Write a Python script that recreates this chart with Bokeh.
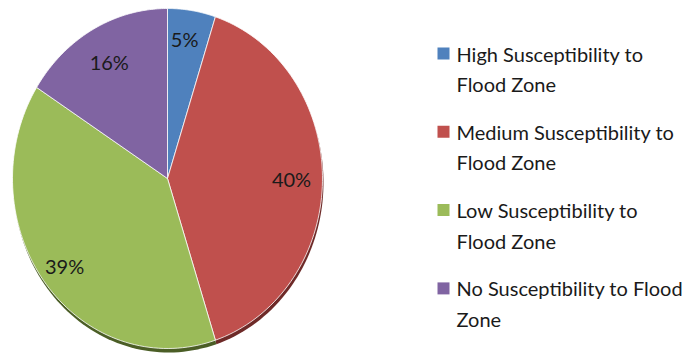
import numpy as np
from bokeh.plotting import figure
from bokeh.models import Range1d, ColumnDataSource
from bokeh.core.properties import value
from bokeh.embed import file_html
from bokeh.resources import INLINE

categories = ["High Susceptibility to\nFlood Zone",
              "Medium Susceptibility to\nFlood Zone",
              "Low Susceptibility to\nFlood Zone",
              "No Susceptibility to Flood\nZone"]
values = [5, 40, 39, 16]
labels = ["5%", "40%", "39%", "16%"]
colors = ["#4F81BD", "#C0504D", "#9BBB59", "#8064A2"]
shadow_colors = ["#2c4a6e", "#6e2a28", "#4b5e26", "#4a3862"]

W, H = 688, 362
CX, CY, RX, RY = 167, 178, 155, 170

p = figure(width=W, height=H, output_backend="svg", toolbar_location=None,
           x_range=Range1d(0, W), y_range=Range1d(H, 0), min_border=0)
p.axis.visible = False
p.grid.visible = False
p.outline_line_color = None
p.background_fill_color = "white"

fr = np.array(values, dtype=float) / sum(values)
ends = np.cumsum(fr) * 2 * np.pi
starts = ends - fr * 2 * np.pi

xs, ys, sxs, sys_ = [], [], [], []
for s, e in zip(starts, ends):
    t = np.linspace(s, e, 80)
    x = np.concatenate([[CX], CX + RX * np.sin(t)])
    y = np.concatenate([[CY], CY - RY * np.cos(t)])
    xs.append(list(x)); ys.append(list(y))
    sxs.append(list(x + 1)); sys_.append(list(y + 4))

p.patches(sxs, sys_, fill_color=shadow_colors, line_color=None)
src = ColumnDataSource(dict(xs=xs, ys=ys, color=colors, cat=categories))
p.patches("xs", "ys", source=src, fill_color="color", line_color="white", line_width=0.8)

mids = (starts + ends) / 2
lr = np.array([0.83, 0.8, 0.84, 0.78])
tx = CX + RX * lr * np.sin(mids) - np.array([3, 0, 0, 0])
ty = CY - RY * lr * np.cos(mids)
p.text(tx, ty, text=labels, text_align="center", text_baseline="middle",
       text_font=value("Lato"), text_font_size="20px", text_color="#1a1a1a")

# legend drawn manually
LX, LY0, LSTEP, LLINE = 443, 53, 78.3, 30.5
ly = LY0 + LSTEP * np.arange(len(categories))
p.scatter(np.full(len(categories), LX), ly, marker="square", size=12,
          fill_color=colors, line_color=None)
lines = [c.split("\n") for c in categories]
t1 = [l[0] for l in lines]
t2 = [l[1] for l in lines]
p.text(np.full(len(categories), 456), ly, text=t1, text_align="left", text_baseline="middle",
       text_font=value("Lato"), text_font_size="20px", text_color="#1a1a1a")
p.text(np.full(len(categories), 456), ly + LLINE, text=t2, text_align="left", text_baseline="middle",
       text_font=value("Lato"), text_font_size="20px", text_color="#1a1a1a")

open("out.html", "w").write(file_html(p, INLINE))
